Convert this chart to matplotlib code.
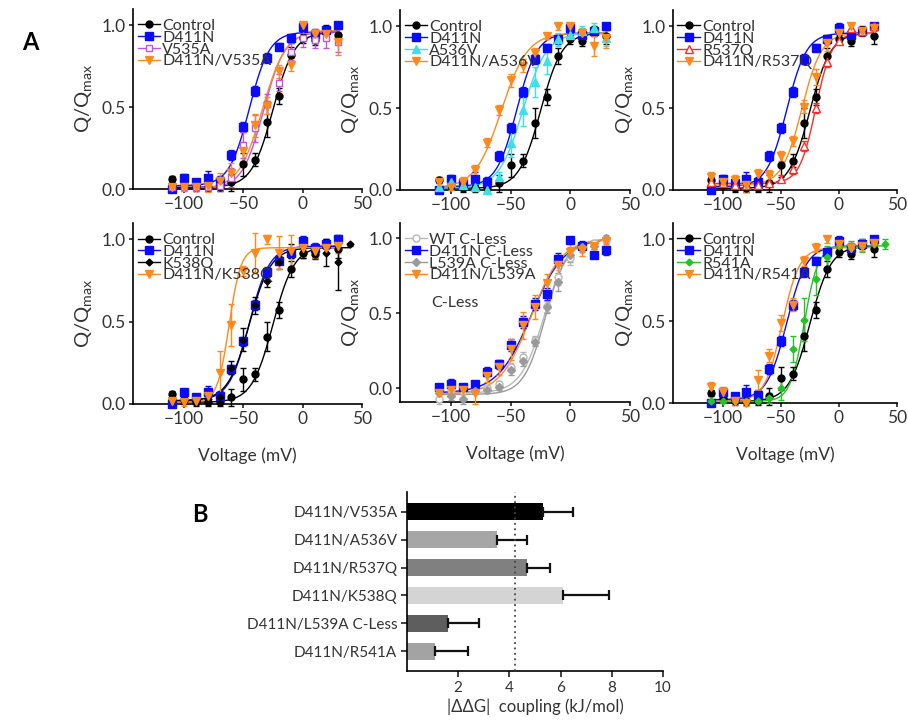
import numpy as np
import matplotlib.pyplot as plt
from matplotlib.lines import Line2D

plt.rcParams['font.family'] = ['Lato', 'DejaVu Sans']
plt.rcParams['axes.linewidth'] = 1.2
plt.rcParams['xtick.major.width'] = 1.2
plt.rcParams['ytick.major.width'] = 1.2

# voltages (mV)
volt = [-110, -100, -90, -80, -70, -60, -50, -40, -30, -20, -10, 0, 10, 20, 30]
volt40 = volt + [40]

# Q/Qmax values
ctrl_q = [0.06, 0.03, 0.01, 0.01, 0.01, 0.04, 0.15, 0.18, 0.41, 0.57, 0.82, 0.92, 0.91, 0.97, 0.94]
ctrl_e = [0.02, 0.02, 0.02, 0.02, 0.02, 0.05, 0.07, 0.04, 0.09, 0.05, 0.05, 0.03, 0.03, 0.03, 0.05]
d411n_q = [0.00, 0.07, 0.04, 0.07, 0.05, 0.21, 0.38, 0.60, 0.80, 0.87, 0.92, 0.99, 0.95, 0.97, 1.00]
d411n_e = [0.02, 0.02, 0.02, 0.04, 0.03, 0.03, 0.03, 0.03, 0.03, 0.02, 0.03, 0.03, 0.03, 0.02, 0.02]

v535a_q = [0.01, 0.01, 0.01, 0.01, 0.02, 0.07, 0.27, 0.37, 0.52, 0.65, 0.84, 0.92, 0.91, 0.92, 0.90]
v535a_e = [0.02, 0.02, 0.02, 0.02, 0.03, 0.06, 0.08, 0.08, 0.06, 0.05, 0.05, 0.05, 0.05, 0.06, 0.06]
dv535a_q = [0.01, 0.01, 0.01, 0.02, 0.05, 0.10, 0.23, 0.39, 0.51, 0.72, 0.76, 1.00, 0.95, 0.95, 0.90]
dv535a_e = [0.02, 0.02, 0.02, 0.04, 0.05, 0.06, 0.06, 0.07, 0.05, 0.04, 0.04, 0.02, 0.03, 0.04, 0.08]

a536v_q = [0.02, 0.05, 0.03, 0.02, 0.00, 0.08, 0.29, 0.49, 0.66, 0.79, 0.92, 0.95, 0.97, 0.99, 0.93]
a536v_e = [0.03, 0.03, 0.02, 0.02, 0.02, 0.03, 0.09, 0.10, 0.09, 0.08, 0.04, 0.03, 0.03, 0.03, 0.05]
da536v_q = [0.05, 0.02, 0.05, 0.12, 0.29, 0.49, 0.67, 0.76, 0.84, 0.94, 1.00, 1.00, 0.96, 0.88, 0.93]
da536v_e = [0.03, 0.02, 0.03, 0.03, 0.03, 0.03, 0.04, 0.04, 0.03, 0.02, 0.02, 0.02, 0.03, 0.06, 0.06]

r537q_q = [0.05, 0.04, 0.03, 0.03, 0.03, 0.04, 0.07, 0.13, 0.27, 0.50, 0.78, 0.91, 0.99, 0.97, 1.00]
r537q_e = [0.02, 0.02, 0.02, 0.02, 0.02, 0.02, 0.02, 0.03, 0.03, 0.03, 0.03, 0.02, 0.02, 0.02, 0.02]
dr537q_q = [0.08, 0.05, 0.06, 0.03, 0.10, 0.09, 0.21, 0.30, 0.51, 0.69, 0.90, 0.96, 1.00, 0.97, 0.99]
dr537q_e = [0.03, 0.03, 0.03, 0.04, 0.03, 0.03, 0.03, 0.03, 0.04, 0.05, 0.05, 0.03, 0.02, 0.02, 0.02]

k538q_q = [0.03, 0.02, 0.02, 0.03, 0.04, 0.22, 0.39, 0.60, 0.75, 0.86, 0.93, 0.92, 0.93, 0.92, 0.86, 0.97]
k538q_e = [0.02, 0.02, 0.02, 0.03, 0.03, 0.04, 0.07, 0.05, 0.04, 0.04, 0.04, 0.03, 0.04, 0.08, 0.17, 0.01]
dk538q_q = [0.02, 0.01, 0.02, 0.05, 0.19, 0.48, 0.81, 0.92, 1.00, 0.92, 0.93, 0.95, 0.93, 0.95, 0.96]
dk538q_e = [0.02, 0.02, 0.02, 0.04, 0.13, 0.13, 0.03, 0.12, 0.03, 0.10, 0.10, 0.05, 0.04, 0.04, 0.04]

wtcl_q = [-0.07, -0.01, -0.02, 0.00, 0.00, 0.03, 0.14, 0.21, 0.32, 0.55, 0.74, 0.87, 0.94, 0.97, 0.99]
wtcl_e = [0.03, 0.02, 0.02, 0.02, 0.02, 0.02, 0.03, 0.03, 0.03, 0.04, 0.05, 0.05, 0.03, 0.02, 0.02]
dcl_q = [0.01, 0.03, 0.01, 0.03, 0.11, 0.16, 0.29, 0.44, 0.56, 0.63, 0.86, 0.99, 0.95, 0.89, 0.92]
dcl_e = [0.02, 0.03, 0.02, 0.02, 0.03, 0.03, 0.04, 0.04, 0.04, 0.04, 0.04, 0.02, 0.03, 0.02, 0.03]
l539a_q = [-0.03, -0.05, -0.07, -0.02, -0.01, 0.01, 0.12, 0.18, 0.31, 0.54, 0.71, 0.89, 0.94, 0.95, 1.00]
l539a_e = [0.03, 0.03, 0.03, 0.02, 0.02, 0.02, 0.03, 0.03, 0.03, 0.04, 0.06, 0.05, 0.03, 0.02, 0.02]
dl539a_q = [-0.03, -0.01, -0.01, -0.03, 0.08, 0.14, 0.26, 0.42, 0.54, 0.70, 0.82, 0.91, 0.92, 0.95, 0.98]
dl539a_e = [0.03, 0.03, 0.03, 0.07, 0.04, 0.05, 0.07, 0.09, 0.08, 0.06, 0.07, 0.05, 0.04, 0.02, 0.02]

r541a_q = [0.01, 0.01, 0.01, 0.01, 0.01, 0.03, 0.09, 0.33, 0.51, 0.76, 0.89, 0.96, 0.95, 0.96, 0.97, 0.97]
r541a_e = [0.01, 0.01, 0.01, 0.01, 0.01, 0.03, 0.07, 0.08, 0.13, 0.10, 0.07, 0.05, 0.04, 0.04, 0.03, 0.03]
dr541a_q = [0.10, 0.07, 0.01, 0.00, 0.14, 0.29, 0.49, 0.60, 0.87, 0.95, 1.00, 0.97, 0.95, 0.96, 0.98]
dr541a_e = [0.03, 0.03, 0.02, 0.02, 0.06, 0.04, 0.05, 0.04, 0.03, 0.03, 0.02, 0.02, 0.03, 0.03, 0.02]

# Boltzmann fits: V1/2, slope, top, bottom
ctrl_fit = [-25, 9, 0.96, 0.01]
d411n_fit = [-45, 8.5, 0.96, 0.02]
v535a_fit = [-33, 9, 0.96, 0.0]
dv535a_fit = [-34, 10, 0.97, 0.0]
a536v_fit = [-40, 10, 0.96, 0.01]
da536v_fit = [-58, 11, 0.96, 0.01]
r537q_fit = [-20, 7, 0.96, 0.04]
dr537q_fit = [-32, 8.5, 0.96, 0.03]
k538q_fit = [-45, 9, 0.95, 0.02]
dk538q_fit = [-62, 5, 0.95, 0.01]
wtcl_fit = [-22, 10, 0.99, -0.03]
dcl_fit = [-33, 14, 1.0, -0.03]
l539a_fit = [-21, 9, 0.99, -0.04]
dl539a_fit = [-33, 13, 1.0, -0.04]
r541a_fit = [-30, 6, 0.96, 0.01]
dr541a_fit = [-49, 7.5, 0.95, 0.01]

# bar chart values
bar_labels = ['D411N/V535A', 'D411N/A536V', 'D411N/R537Q', 'D411N/K538Q',
              'D411N/L539A C-Less', 'D411N/R541A']
bar_vals = [5.3, 3.5, 4.7, 6.1, 1.6, 1.1]
bar_err = [1.2, 1.2, 0.9, 1.8, 1.2, 1.3]
bar_colors = ['#000000', '#a6a6a6', '#808080', '#d4d4d4', '#5e5e5e', '#a3a3a3']
threshold = 4.2

BLACK = '#000000'
BLUE = '#0a0aff'
ORANGE = '#ff8a1c'

ctrl = ('Control', volt, ctrl_q, ctrl_e, ctrl_fit, BLACK, 'o', 5, None)
d411n = ('D411N', volt, d411n_q, d411n_e, d411n_fit, BLUE, 's', 5.5, None)

panels = [
    [ctrl, d411n,
     ('V535A', volt, v535a_q, v535a_e, v535a_fit, '#c452e6', 's', 5, 'white'),
     ('D411N/V535A', volt, dv535a_q, dv535a_e, dv535a_fit, ORANGE, 'v', 6, None)],
    [ctrl, d411n,
     ('A536V', volt, a536v_q, a536v_e, a536v_fit, '#3de0e6', '^', 6, None),
     ('D411N/A536V', volt, da536v_q, da536v_e, da536v_fit, ORANGE, 'v', 6, None)],
    [ctrl, d411n,
     ('R537Q', volt, r537q_q, r537q_e, r537q_fit, '#ff2a2a', '^', 5.5, 'white'),
     ('D411N/R537Q', volt, dr537q_q, dr537q_e, dr537q_fit, ORANGE, 'v', 6, None)],
    [ctrl, d411n,
     ('K538Q', volt40, k538q_q, k538q_e, k538q_fit, BLACK, 'D', 3.5, None),
     ('D411N/K538Q', volt, dk538q_q, dk538q_e, dk538q_fit, ORANGE, 'v', 6, None)],
    [('WT C-Less', volt, wtcl_q, wtcl_e, wtcl_fit, '#b8b8b8', 'o', 5, 'white'),
     ('D411N C-Less', volt, dcl_q, dcl_e, dcl_fit, BLUE, 's', 5.5, None),
     ('L539A C-Less', volt, l539a_q, l539a_e, l539a_fit, '#9a9a9a', 'D', 4, None),
     ('D411N/L539A', volt, dl539a_q, dl539a_e, dl539a_fit, ORANGE, 'v', 6, None)],
    [ctrl, d411n,
     ('R541A', volt40, r541a_q, r541a_e, r541a_fit, '#25c425', 'D', 3.5, None),
     ('D411N/R541A', volt, dr541a_q, dr541a_e, dr541a_fit, ORANGE, 'v', 6, None)],
]

# axes rectangles in pixels: left, top, right, bottom
W, H = 908, 723
rects = [(133, 9, 362, 189), (400, 10, 630, 190), (673, 10, 897, 190),
         (133, 223, 362, 404), (400, 223, 630, 402), (673, 223, 897, 403)]
ylims = [(0, 1.1)] * 4 + [(-0.09, 1.1), (0, 1.1)]

fig = plt.figure(figsize=(W / 100, H / 100), dpi=100)

for i, (series, r) in enumerate(zip(panels, rects)):
    l, t, rr, b = r
    ax = fig.add_axes([l / W, 1 - b / H, (rr - l) / W, (b - t) / H])
    handles = []
    for name, v, q, e, fit, col, mk, ms, mfc in series:
        v = np.array(v)
        vh, k, top, bot = fit
        vv = np.linspace(v.min(), v.max(), 200)
        ax.plot(vv, bot + (top - bot) / (1 + np.exp((vh - vv) / k)),
                color=col, lw=1.0, clip_on=False)
        ax.errorbar(v, q, yerr=e, fmt=mk, color=col, ms=ms,
                    mfc=mfc if mfc else col, mec=col, mew=1.0,
                    ecolor=col, elinewidth=1.0, capsize=2.2, capthick=1.0,
                    clip_on=False, zorder=3)
        handles.append(Line2D([], [], color=col, marker=mk, ms=ms,
                              mfc=mfc if mfc else col, mec=col, lw=1.0))
    ax.set_xlim(-143, 50)
    ax.set_ylim(*ylims[i])
    ax.set_xticks([-100, -50, 0, 50])
    ax.set_yticks([0, 0.5, 1.0])
    ax.set_yticklabels(['0.0', '0.5', '1.0'])
    for s in ['top', 'right']:
        ax.spines[s].set_visible(False)
    ax.tick_params(direction='out', length=3, labelsize=12.5, colors='#333333', pad=2)
    ax.tick_params(axis='both', color='#222222')
    ax.set_ylabel('Q/Q$_{\\mathregular{max}}$', fontsize=14.5, color='#333333')
    ax.yaxis.set_label_coords(-0.165, 0.5)
    if i >= 3:
        ax.set_xlabel('Voltage (mV)', fontsize=12.5, color='#333333')
        ax.xaxis.set_label_coords(0.5, -0.24)
    leg = ax.legend(handles, [s[0] for s in series], loc='upper left',
                    bbox_to_anchor=(0.02, 0.945), frameon=False, fontsize=11.5,
                    labelspacing=-0.15, handlelength=1.4, handletextpad=0.15,
                    borderpad=0, borderaxespad=0)
    for txt in leg.get_texts():
        txt.set_color('#333333')
    if i == 4:
        ax.text(0.135, 0.555, 'C-Less', transform=ax.transAxes, fontsize=11.5,
                color='#333333', va='center')

fig.text(30 / W, 1 - 42 / H, 'A', fontsize=17, fontweight='bold', ha='center', va='center')
fig.text(200 / W, 1 - 515 / H, 'B', fontsize=17, fontweight='bold', ha='center', va='center')

# panel B
l, t, rr, b = 407, 492, 663, 671
axb = fig.add_axes([l / W, 1 - b / H, (rr - l) / W, (b - t) / H])
ypos = np.arange(len(bar_vals))
axb.barh(ypos, bar_vals, height=0.58, color=bar_colors, zorder=2)
axb.errorbar(bar_vals, ypos, xerr=[np.zeros(len(bar_err)), bar_err], fmt='none',
             ecolor='#111111', elinewidth=1.6, capsize=3.5, capthick=1.6, zorder=3)
axb.axvline(threshold, color='#444444', lw=1.3, ls=(0, (1, 2)), zorder=4)
axb.set_xlim(0, 10)
axb.set_ylim(len(bar_vals) - 0.3, -0.7)
axb.set_xticks([2, 4, 6, 8, 10])
axb.set_yticks(ypos)
axb.set_yticklabels(bar_labels)
for s in ['top', 'right']:
    axb.spines[s].set_visible(False)
axb.tick_params(direction='out', length=4, labelsize=11, colors='#333333', pad=3)
axb.tick_params(axis='both', color='#222222')
axb.set_xlabel('|\u0394\u0394G|  coupling (kJ/mol)', fontsize=12, color='#333333', labelpad=3)

fig.savefig('out.png', dpi=100)
